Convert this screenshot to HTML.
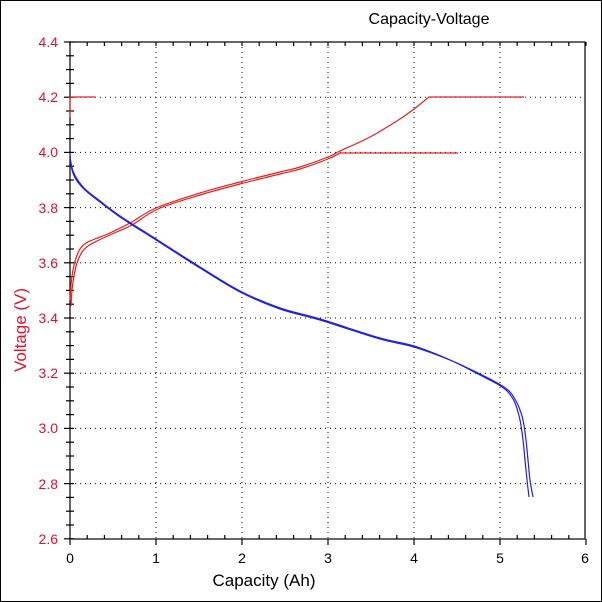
<!DOCTYPE html>
<html><head><style>
html,body{margin:0;padding:0;background:#fff}
svg{display:block}
text{font-family:"Liberation Sans",Arial,sans-serif}
</style></head><body>
<svg width="602" height="602" viewBox="0 0 602 602" xmlns="http://www.w3.org/2000/svg">
<rect x="0.5" y="0.5" width="601" height="601" fill="#fff" stroke="#000"/>
<text x="429" y="24" font-size="16" text-anchor="middle" fill="#000">Capacity-Voltage</text>
<g stroke="#000" stroke-width="1" stroke-dasharray="1,4">
<line x1="156" y1="42" x2="156" y2="539"/><line x1="242" y1="42" x2="242" y2="539"/>
<line x1="328" y1="42" x2="328" y2="539"/><line x1="414" y1="42" x2="414" y2="539"/>
<line x1="500" y1="42" x2="500" y2="539"/>
<line x1="70" y1="97.2" x2="585" y2="97.2"/><line x1="70" y1="152.4" x2="585" y2="152.4"/>
<line x1="70" y1="207.6" x2="585" y2="207.6"/><line x1="70" y1="262.8" x2="585" y2="262.8"/>
<line x1="70" y1="318" x2="585" y2="318"/><line x1="70" y1="373.2" x2="585" y2="373.2"/>
<line x1="70" y1="428.4" x2="585" y2="428.4"/><line x1="70" y1="483.6" x2="585" y2="483.6"/>
</g>
<rect x="70" y="42" width="515" height="497" fill="none" stroke="#000" stroke-width="1.2"/>
<g id="t" stroke="#000" stroke-width="1.2"></g>
<g font-size="14" fill="#e0102a" text-anchor="end">
<text x="58" y="47">4.4</text><text x="58" y="102">4.2</text><text x="58" y="157">4.0</text>
<text x="58" y="213">3.8</text><text x="58" y="268">3.6</text><text x="58" y="323">3.4</text>
<text x="58" y="378">3.2</text><text x="58" y="433">3.0</text><text x="58" y="489">2.8</text>
<text x="58" y="544">2.6</text>
</g>
<g font-size="14" fill="#000" text-anchor="middle">
<text x="70" y="563">0</text><text x="156" y="563">1</text><text x="242" y="563">2</text>
<text x="328" y="563">3</text><text x="414" y="563">4</text><text x="500" y="563">5</text><text x="585" y="563">6</text>
</g>
<text x="264" y="586" font-size="17" text-anchor="middle" fill="#000">Capacity  (Ah)</text>
<text transform="translate(26,330) rotate(-90)" font-size="17" text-anchor="middle" fill="#e0102a">Voltage  (V)</text>
<g id="c" fill="none" stroke-width="1.2"></g>
</svg>
<script>
(function(){var g=document.getElementById('t'),s='';
for(var i=0;i<=30;i++){var x=70+i*86/5;var maj=i%5==0;
s+='<line x1="'+x+'" y1="'+(maj?545:535)+'" x2="'+x+'" y2="539"/>';
s+='<line x1="'+x+'" y1="42" x2="'+x+'" y2="46"/>';}
for(var j=0;j<=36;j++){var y=42+j*276/20;var maj=j%4==0;
s+='<line x1="'+(maj?64:66)+'" y1="'+y+'" x2="74" y2="'+y+'"/>';}
g.innerHTML=s;
function cr(p){var d='M'+p[0][0]+','+p[0][1];
for(var i=0;i<p.length-1;i++){var p0=p[i?i-1:0],p1=p[i],p2=p[i+1],p3=p[i+2<p.length?i+2:i+1];
d+=' C'+(p1[0]+(p2[0]-p0[0])/6)+','+(p1[1]+(p2[1]-p0[1])/6)+' '+(p2[0]-(p3[0]-p1[0])/6)+','+(p2[1]-(p3[1]-p1[1])/6)+' '+p2[0]+','+p2[1];}
return d;}
var R='#e82020',B='#2020e0';
var curves=[
[R,[[70,300],[71,285],[73,270],[76,258],[80,249],[86,243],[95,239],[110,233],[130,223],[156,208],[200,193],[240,182],[280,172],[300,167],[328,157],[340,151],[370,137],[400,119],[414,109],[429,97]],' L524,97'],
[R,[[71,306],[72,290],[74,276],[77,263],[82,252],[88,246],[97,241],[112,234],[132,225],[158,209],[200,195],[240,184],[280,174],[300,169],[328,159],[340,153]],' L458,153'],
[B,[[70,154],[71,163],[73,171],[77,179],[85,189],[100,201],[120,216],[156,239],[200,267],[240,291],[280,308],[320,319],[380,338],[414,346],[450,360],[480,375],[499,385],[508,392],[515,403],[520,420],[523,440],[525,460],[527,480],[529,497]],''],
[B,[[70,156],[71,165],[73,173],[77,181],[85,190],[100,202],[120,217],[156,240],[200,268],[240,292],[280,309],[320,320],[380,339],[414,347],[450,360],[480,374],[499,384],[510,392],[518,405],[523,420],[526,440],[528,460],[530,480],[533,497]],'']];
var h='<polyline points="70,117 70,97 95,97" stroke="'+R+'"/>';
curves.forEach(function(c){h+='<path d="'+cr(c[1])+c[2]+'" stroke="'+c[0]+'"/>';});
document.getElementById('c').innerHTML=h;})();
</script>
</body></html>
